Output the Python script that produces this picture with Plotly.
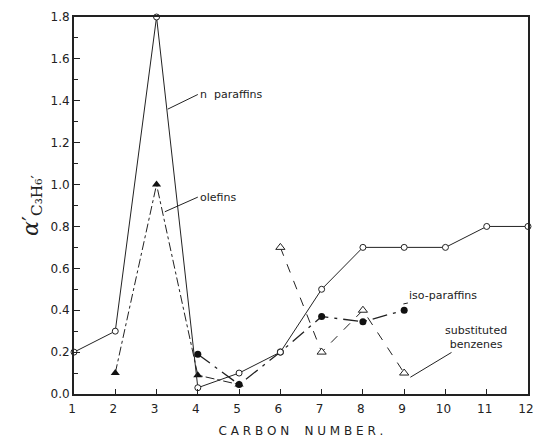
import plotly.graph_objects as go

carbon_n = [1, 2, 3, 4, 5, 6, 7, 8, 9, 10, 11, 12]
n_paraffins = [0.2, 0.3, 1.8, 0.03, 0.1, 0.2, 0.5, 0.7, 0.7, 0.7, 0.8, 0.8]

carbon_ole = [2, 3, 4, 5]
olefins = [0.1, 1.0, 0.09, 0.045]

carbon_iso = [4, 5, 6, 7, 8, 9]
iso_paraffins = [0.19, 0.045, 0.2, 0.37, 0.345, 0.4]

carbon_benz = [6, 7, 8, 9]
benzenes = [0.7, 0.2, 0.4, 0.1]

x_ticks = list(range(1, 13))
y_ticks = [0.0, 0.2, 0.4, 0.6, 0.8, 1.0, 1.2, 1.4, 1.6, 1.8]

font = dict(family="DejaVu Sans", size=11, color="#222")

fig = go.Figure()
fig.add_trace(go.Scatter(x=carbon_ole, y=olefins, mode="lines+markers", cliponaxis=False,
                         line=dict(color="#222", width=1, dash="dashdot"),
                         marker=dict(symbol="triangle-up", size=8, color="#111")))
fig.add_trace(go.Scatter(x=carbon_iso, y=iso_paraffins, mode="lines+markers", cliponaxis=False,
                         line=dict(color="#222", width=1.3, dash="longdashdot"),
                         marker=dict(symbol="circle", size=7, color="#111")))
fig.add_trace(go.Scatter(x=carbon_benz, y=benzenes, mode="lines+markers", cliponaxis=False,
                         line=dict(color="#222", width=1, dash="dash"),
                         marker=dict(symbol="triangle-up", size=8, color="white",
                                     line=dict(color="#222", width=1))))
fig.add_trace(go.Scatter(x=carbon_n, y=n_paraffins, mode="lines+markers", cliponaxis=False,
                         line=dict(color="#222", width=1),
                         marker=dict(symbol="circle", size=6, color="white",
                                     line=dict(color="#222", width=1))))

fig.add_annotation(text="n  paraffins", x=3.27, y=1.36, ax=4.0, ay=1.43,
                   axref="x", ayref="y", xanchor="left", showarrow=True,
                   arrowhead=0, arrowwidth=1, arrowcolor="#222", standoff=0,
                   font=font)
fig.add_annotation(text="olefins", x=3.2, y=0.87, ax=4.0, ay=0.94,
                   axref="x", ayref="y", xanchor="left", showarrow=True,
                   arrowhead=0, arrowwidth=1, arrowcolor="#222", font=font)
fig.add_annotation(text="iso-paraffins", x=8.98, y=0.43, ax=9.95, ay=0.47,
                   axref="x", ayref="y", showarrow=True,
                   arrowhead=0, arrowwidth=1, arrowcolor="#222", font=font)
fig.add_annotation(text="substituted<br>benzenes", x=9.15, y=0.08, ax=10.75, ay=0.27,
                   axref="x", ayref="y", showarrow=True,
                   arrowhead=0, arrowwidth=1, arrowcolor="#222", font=font)

fig.update_layout(
    width=536, height=438,
    margin=dict(l=74, r=8, t=17, b=44),
    paper_bgcolor="white", plot_bgcolor="white",
    showlegend=False,
    font=font,
)
fig.update_xaxes(range=[1, 12], tickvals=x_ticks, ticktext=[str(v) for v in x_ticks],
                 ticks="inside", ticklen=5, tickcolor="#222", ticklabelshift=-2,
                 ticklabelstandoff=3, tickfont=dict(size=12),
                 showline=True, linecolor="#222", linewidth=2, mirror=True,
                 showgrid=False, zeroline=False, automargin=False,
                 title=dict(text="C A R B O N    N U M B E R .", font=dict(size=12), standoff=12))
fig.update_yaxes(range=[0, 1.8], tickvals=y_ticks, ticktext=[f"{v:.1f}" for v in y_ticks],
                 ticks="inside", ticklen=6, tickcolor="#222", tickfont=dict(size=12),
                 minor=dict(dtick=0.1, ticks="inside", ticklen=4, tickcolor="#222"),
                 showline=True, linecolor="#222", linewidth=2, mirror=True,
                 showgrid=False, zeroline=False, automargin=False,
                 title=dict(text="<i>α</i>′<sub>C₃H₆′</sub>", font=dict(size=22, family="DejaVu Serif"), standoff=6))

fig.write_html("out.html", config={"displayModeBar": False},
               post_script="document.body.style.margin='0';document.body.style.overflow='hidden';")
